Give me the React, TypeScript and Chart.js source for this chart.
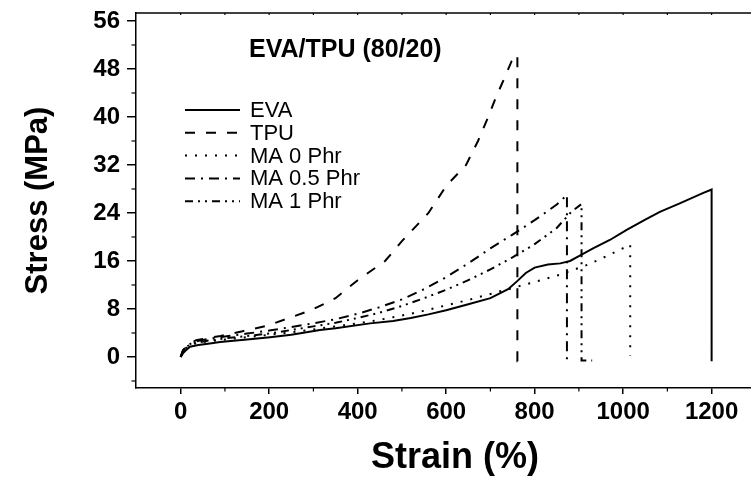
import React, { useEffect, useRef } from "react";
import { Chart, registerables } from "chart.js";

Chart.register(...registerables);

// ---------- data ----------
const evaStrain = [0, 5, 10, 21, 40, 70, 89, 150, 202, 250, 315, 350, 428, 480, 520, 560, 600, 650, 700, 740, 760, 780, 800, 830, 858, 880, 900, 932, 970, 1008, 1050, 1083, 1128, 1180, 1200, 1200];
const evaStress = [0, 0.6, 1.0, 1.7, 2.0, 2.3, 2.5, 2.9, 3.3, 3.7, 4.5, 4.8, 5.6, 6.0, 6.5, 7.1, 7.8, 8.8, 9.8, 11.3, 12.6, 14.0, 14.9, 15.4, 15.6, 16.0, 16.8, 18.1, 19.5, 21.2, 22.9, 24.2, 25.6, 27.3, 27.9, -0.7];

const tpuStrain = [0, 5, 15, 35, 50, 90, 140, 195, 245, 295, 350, 400, 462, 500, 560, 600, 645, 672, 695, 712, 730, 748, 761, 761, 768];
const tpuStress = [0, 1.0, 2.0, 2.8, 3.0, 3.5, 4.3, 5.2, 6.5, 7.8, 9.8, 12.8, 16.0, 19.3, 24.0, 28.5, 32.0, 36.0, 40.0, 43.2, 46.2, 49.3, 50.4, -0.7, -0.7];

const ma0Strain = [0, 5, 15, 30, 60, 100, 150, 200, 250, 300, 350, 400, 450, 500, 550, 600, 650, 700, 750, 800, 857, 887, 917, 951, 982, 1016, 1016];
const ma0Stress = [0, 1.0, 1.7, 2.2, 2.6, 2.9, 3.3, 3.7, 4.1, 4.6, 5.1, 5.6, 6.2, 6.9, 7.7, 8.6, 9.5, 10.5, 11.5, 12.5, 13.7, 14.5, 15.3, 16.4, 17.5, 18.7, 0.2];

const ma05Strain = [0, 5, 15, 30, 60, 100, 150, 200, 250, 300, 350, 400, 450, 500, 550, 600, 650, 700, 750, 800, 850, 873, 873, 882];
const ma05Stress = [0, 1.1, 1.9, 2.5, 3.0, 3.4, 3.9, 4.4, 5.0, 5.6, 6.3, 7.2, 8.3, 9.6, 11.3, 13.3, 15.6, 18.1, 20.4, 22.8, 25.4, 27.0, -0.6, -0.6];

const ma1Strain = [0, 5, 15, 30, 60, 100, 150, 200, 250, 300, 350, 400, 450, 500, 550, 600, 650, 700, 750, 800, 850, 883, 906, 906, 930];
const ma1Stress = [0, 1.0, 1.8, 2.3, 2.7, 3.1, 3.5, 3.9, 4.5, 5.1, 5.7, 6.5, 7.4, 8.5, 9.8, 11.2, 12.8, 14.6, 16.6, 18.8, 21.5, 24.2, 25.5, -0.6, -0.6];

const seriesNames = ["EVA", "TPU", "MA 0 Phr", "MA 0.5 Phr", "MA 1 Phr"];
const xTickValues = [0, 200, 400, 600, 800, 1000, 1200];
const xMinorValues = [100, 300, 500, 700, 900, 1100];
const yTickValues = [0, 8, 16, 24, 32, 40, 48, 56];
const yMinorValues = [-4, 4, 12, 20, 28, 36, 44, 52];
const plotTitle = "EVA/TPU (80/20)";
const xTitle = "Strain (%)";
const yTitle = "Stress (MPa)";

const FONT = "'Liberation Sans', Arial, Helvetica, sans-serif";

const toPts = (xs: number[], ys: number[]) => xs.map((x, i) => ({ x, y: ys[i] }));

const decorPlugin = {
  id: "decor",
  afterDraw(chart: any) {
    const { ctx, chartArea, scales } = chart;
    const xs = scales.x;
    const ys = scales.y;
    ctx.save();
    ctx.strokeStyle = "#000";
    ctx.lineWidth = 1.5;
    // top frame line
    ctx.beginPath();
    ctx.moveTo(chartArea.left, chartArea.top);
    ctx.lineTo(chartArea.right, chartArea.top);
    ctx.stroke();
    // minor ticks x
    ctx.lineWidth = 1.2;
    for (const v of xMinorValues) {
      const px = xs.getPixelForValue(v);
      ctx.beginPath();
      ctx.moveTo(px, chartArea.bottom);
      ctx.lineTo(px, chartArea.bottom + 3.5);
      ctx.stroke();
    }
    // top inward ticks
    for (const v of [...xTickValues, ...xMinorValues]) {
      const px = xs.getPixelForValue(v);
      ctx.beginPath();
      ctx.moveTo(px, chartArea.top);
      ctx.lineTo(px, chartArea.top + 2);
      ctx.stroke();
    }
    // minor ticks y
    for (const v of yMinorValues) {
      const py = ys.getPixelForValue(v);
      ctx.beginPath();
      ctx.moveTo(chartArea.left, py);
      ctx.lineTo(chartArea.left - 4.5, py);
      ctx.stroke();
    }
    // in-plot title
    ctx.fillStyle = "#000";
    ctx.font = `bold 25px ${FONT}`;
    ctx.textBaseline = "middle";
    ctx.textAlign = "left";
    ctx.fillText(plotTitle, chartArea.left + 113, chartArea.top + 37);
    // legend
    const lx0 = chartArea.left + 49;
    const lx1 = chartArea.left + 104;
    const ly0 = chartArea.top + 97;
    const step = 22.8;
    ctx.font = `22px ${FONT}`;
    chart.data.datasets.forEach((ds: any, i: number) => {
      const y = ly0 + i * step;
      ctx.save();
      ctx.lineWidth = ds.borderWidth;
      ctx.setLineDash(ds.borderDash || []);
      ctx.beginPath();
      ctx.moveTo(lx0, y);
      ctx.lineTo(lx1, y);
      ctx.stroke();
      ctx.restore();
      ctx.fillText(ds.label, lx0 + 65, y + 1);
    });
    ctx.restore();
  },
};

export default function App() {
  const ref = useRef<HTMLCanvasElement | null>(null);
  useEffect(() => {
    const canvas = ref.current!;
    const common = { borderColor: "#000", borderWidth: 2, pointRadius: 0, tension: 0, fill: false };
    const chart = new Chart(canvas, {
      type: "line",
      data: {
        datasets: [
          { ...common, label: seriesNames[0], data: toPts(evaStrain, evaStress), borderDash: [] },
          { ...common, label: seriesNames[1], data: toPts(tpuStrain, tpuStress), borderDash: [10, 11] },
          { ...common, label: seriesNames[2], data: toPts(ma0Strain, ma0Stress), borderDash: [2, 8] },
          { ...common, label: seriesNames[3], data: toPts(ma05Strain, ma05Stress), borderDash: [10, 6, 2, 6] },
          { ...common, label: seriesNames[4], data: toPts(ma1Strain, ma1Stress), borderDash: [8, 5, 2, 5, 2, 5] },
        ],
      },
      options: {
        responsive: false,
        animation: false,
        events: [],
        layout: { padding: { top: 13, right: 0, left: 0, bottom: 0 } },
        plugins: { legend: { display: false }, tooltip: { enabled: false } },
        scales: {
          x: {
            type: "linear",
            min: -101,
            max: 1341,
            afterFit: (s: any) => { s.height = 92; s.paddingLeft = 0; s.paddingRight = 0; },
            afterBuildTicks: (s: any) => { s.ticks = xTickValues.map((v) => ({ value: v })); },
            grid: { drawOnChartArea: false, color: "#000", tickLength: 6, lineWidth: 1.5 },
            border: { display: true, color: "#000", width: 1.5 },
            ticks: {
              color: "#000",
              padding: 4,
              maxRotation: 0,
              autoSkip: false,
              font: { family: FONT, size: 24, weight: "bold" },
              callback: (v: any) => String(v),
            },
            title: {
              display: true,
              text: xTitle,
              color: "#000",
              font: { family: FONT, size: 36, weight: "bold" },
              padding: { top: 0, bottom: 0 },
            },
          },
          y: {
            type: "linear",
            min: -5.17,
            max: 57.33,
            afterFit: (s: any) => { s.width = 136; s.paddingTop = 0; s.paddingBottom = 0; },
            afterBuildTicks: (s: any) => { s.ticks = yTickValues.map((v) => ({ value: v })); },
            grid: { drawOnChartArea: false, color: "#000", tickLength: 9, lineWidth: 1.5 },
            border: { display: true, color: "#000", width: 1.5 },
            ticks: {
              color: "#000",
              padding: 7,
              autoSkip: false,
              font: { family: FONT, size: 24, weight: "bold" },
              callback: (v: any) => String(v),
            },
            title: {
              display: true,
              text: yTitle,
              color: "#000",
              font: { family: FONT, size: 31, weight: "bold" },
              padding: { top: 20, bottom: 0 },
            },
          },
        },
      },
      plugins: [decorPlugin],
    } as any);
    return () => chart.destroy();
  }, []);
  return (
    <div style={{ position: "fixed", left: 0, top: 0, width: 751, height: 480, overflow: "hidden", background: "#fff" }}>
      <canvas ref={ref} width={774} height={480} style={{ display: "block", width: 774, height: 480 }} />
    </div>
  );
}
